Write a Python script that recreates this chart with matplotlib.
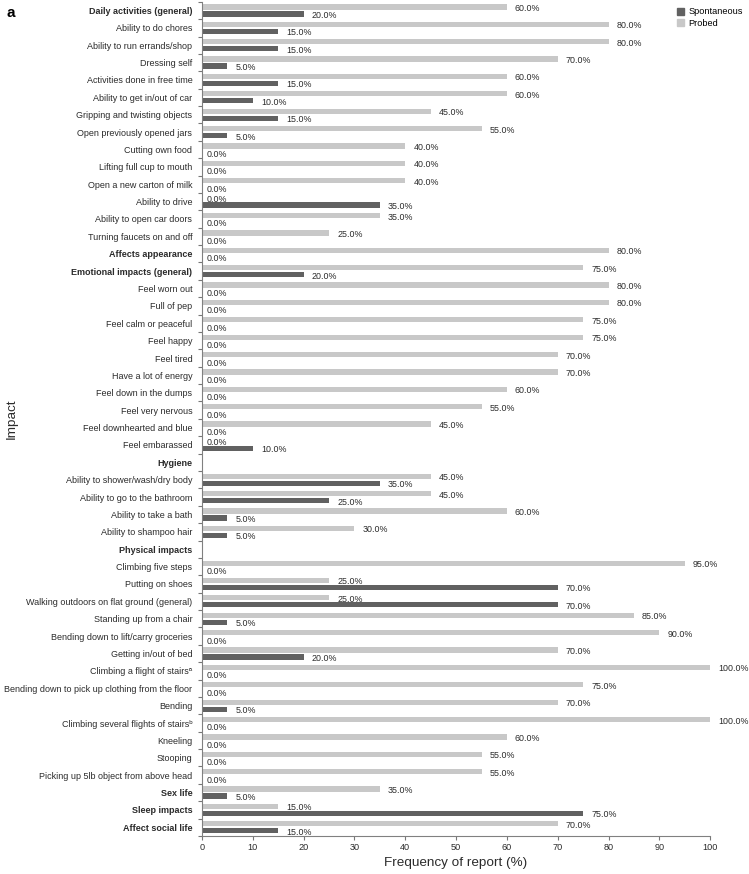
import numpy as np
import matplotlib
matplotlib.use("Agg")
import matplotlib.pyplot as plt
from matplotlib.patches import Patch
from matplotlib.ticker import FixedLocator

plt.rcParams['font.family'] = ['Liberation Sans', 'DejaVu Sans']

impacts = [
    "Daily activities (general)", "Ability to do chores", "Ability to run errands/shop",
    "Dressing self", "Activities done in free time", "Ability to get in/out of car",
    "Gripping and twisting objects", "Open previously opened jars", "Cutting own food",
    "Lifting full cup to mouth", "Open a new carton of milk", "Ability to drive",
    "Ability to open car doors", "Turning faucets on and off", "Affects appearance",
    "Emotional impacts (general)", "Feel worn out", "Full of pep", "Feel calm or peaceful",
    "Feel happy", "Feel tired", "Have a lot of energy", "Feel down in the dumps",
    "Feel very nervous", "Feel downhearted and blue", "Feel embarassed", "Hygiene",
    "Ability to shower/wash/dry body", "Ability to go to the bathroom",
    "Ability to take a bath", "Ability to shampoo hair", "Physical impacts",
    "Climbing five steps", "Putting on shoes", "Walking outdoors on flat ground (general)",
    "Standing up from a chair", "Bending down to lift/carry groceries",
    "Getting in/out of bed", "Climbing a flight of stairs\u1d43",
    "Bending down to pick up clothing from the floor", "Bending",
    "Climbing several flights of stairs\u1d47", "Kneeling", "Stooping",
    "Picking up 5lb object from above head", "Sex life", "Sleep impacts",
    "Affect social life",
]

headers = ["Daily activities (general)", "Affects appearance", "Emotional impacts (general)",
           "Hygiene", "Physical impacts", "Sex life", "Sleep impacts", "Affect social life"]

nan = np.nan
probed = [60, 80, 80, 70, 60, 60, 45, 55, 40, 40, 40, 0, 35, 25, 80,
          75, 80, 80, 75, 75, 70, 70, 60, 55, 45, 0, nan,
          45, 45, 60, 30, nan,
          95, 25, 25, 85, 90, 70, 100, 75, 70, 100, 60, 55, 55, 35, 15, 70]
spontaneous = [20, 15, 15, 5, 15, 10, 15, 5, 0, 0, 0, 35, 0, 0, 0,
               20, 0, 0, 0, 0, 0, 0, 0, 0, 0, 10, nan,
               35, 25, 5, 5, nan,
               0, 70, 70, 5, 0, 20, 0, 0, 5, 0, 0, 0, 0, 5, 75, 15]

dark = "#616161"
light = "#c8c8c8"
txt = "#2b2b2b"

fig = plt.figure(figsize=(7.49, 8.74), dpi=100)
ax = fig.add_axes([0.2697, 0.0435, 0.6785, 0.9545])

y = np.arange(len(impacts))
ax.barh(y - 0.2, np.nan_to_num(probed), height=0.3, color=light)
ax.barh(y + 0.2, np.nan_to_num(spontaneous), height=0.3, color=dark)

for yi, p, s in zip(y, probed, spontaneous):
    for v, off in ((p, -0.2), (s, 0.2)):
        if np.isnan(v):
            continue
        dx = 5 if v == 0 else 8
        ax.annotate(f"{v:.1f}%", (v, yi + off), xytext=(dx, -1.5),
                    textcoords="offset pixels", ha="left", va="center",
                    fontsize=6.4, color=txt)

ax.set_xlim(0, 100)
ax.set_ylim(len(impacts) - 0.5, -0.5)
ax.set_xticks(np.arange(0, 101, 10))
ax.set_yticks(y)
ax.set_yticklabels(impacts)
for lab in ax.get_yticklabels():
    if lab.get_text() in headers:
        lab.set_fontweight("bold")
ax.yaxis.set_minor_locator(FixedLocator(np.arange(-0.5, len(impacts), 1)))
ax.tick_params(axis="y", which="major", length=0, pad=7, labelsize=6.5, labelcolor=txt)
ax.tick_params(axis="y", which="minor", length=3, color="#777777", width=0.8)
ax.tick_params(axis="x", length=3, color="#777777", width=0.8, labelsize=6.6,
               labelcolor=txt, pad=2)

for side in ("top", "right"):
    ax.spines[side].set_visible(False)
for side in ("left", "bottom"):
    ax.spines[side].set_color("#808080")
    ax.spines[side].set_linewidth(0.8)

ax.set_xlabel("Frequency of report (%)", fontsize=9.7, color=txt, labelpad=4)
ax.set_ylabel("Impact", fontsize=9.7, color=txt)
ax.yaxis.set_label_coords(-0.362, 0.5)

handles = [Patch(color=dark, label="Spontaneous"), Patch(color=light, label="Probed")]
ax.legend(handles=handles, loc="upper right", bbox_to_anchor=(1.075, 1.0), frameon=False,
          fontsize=6.6, handlelength=0.8, handleheight=0.8, handletextpad=0.5,
          labelspacing=0.3, borderaxespad=0.2)

fig.text(0.009, 0.993, "a", fontsize=11, fontweight="bold", va="top", ha="left")

fig.savefig("out.png", dpi=100)
